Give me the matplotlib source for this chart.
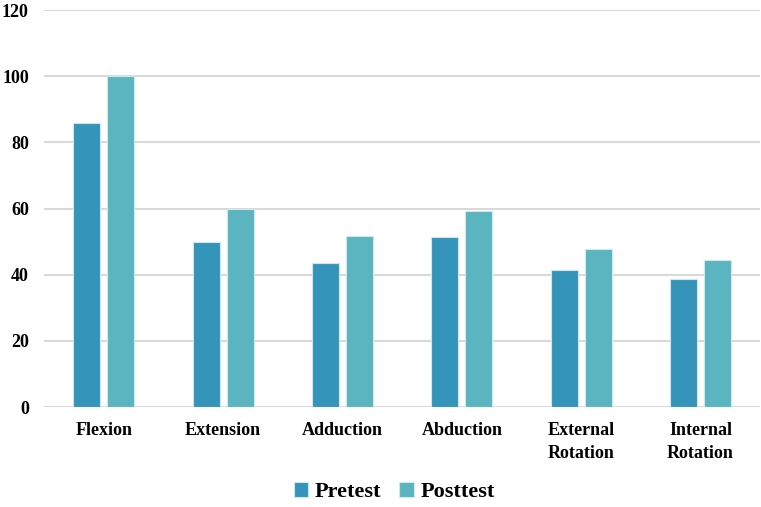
import matplotlib
matplotlib.use("Agg")
import matplotlib.pyplot as plt
import numpy as np

categories = ["Flexion", "Extension", "Adduction", "Abduction", "External\nRotation", "Internal\nRotation"]
pretest = [86, 50, 43.5, 51.5, 41.4, 38.7]
posttest = [100, 60, 51.7, 59.2, 47.7, 44.6]
yticks = [0, 20, 40, 60, 80, 100, 120]

plt.rcParams['font.family'] = ['Liberation Serif', 'DejaVu Serif']
plt.rcParams['font.weight'] = 'bold'

fig = plt.figure(figsize=(7.61, 5.07), dpi=100)
ax = fig.add_axes([0.058, 0.197, 0.941, 0.783])

x = np.arange(len(categories))
w = 0.226
gap = 0.06
c_pre = "#3594BA"
c_post = "#5AB5C0"
ax.bar(x - (w + gap) / 2, pretest, w, color=c_pre, edgecolor="#cfe6ee", linewidth=0.8, label="Pretest", zorder=3)
ax.bar(x + (w + gap) / 2, posttest, w, color=c_post, edgecolor="#cfe9ee", linewidth=0.8, label="Posttest", zorder=3)

ax.set_xlim(-0.5, len(categories) - 0.5)
ax.set_ylim(0, 120)
ax.set_yticks(yticks)
ax.set_yticklabels([str(t) for t in yticks], fontsize=13, fontweight='bold')
ax.set_xticks(x)
ax.set_xticklabels(categories, fontsize=13, fontweight='bold', linespacing=1.45, va='top')
ax.tick_params(axis='both', length=0)
ax.tick_params(axis='y', pad=11)
ax.tick_params(axis='x', pad=10.5)
ax.grid(axis='y', color='#d9d9d9', linewidth=1.5, zorder=0)
for s in ax.spines.values():
    s.set_visible(False)

fig.legend(loc='center', bbox_to_anchor=(0.518, 0.03), ncol=2, frameon=False,
           prop={'family': 'Liberation Serif', 'weight': 'bold', 'size': 16},
           handlelength=0.65, handleheight=0.65, handletextpad=0.3, columnspacing=0.8)

fig.savefig("out.png", dpi=100)
